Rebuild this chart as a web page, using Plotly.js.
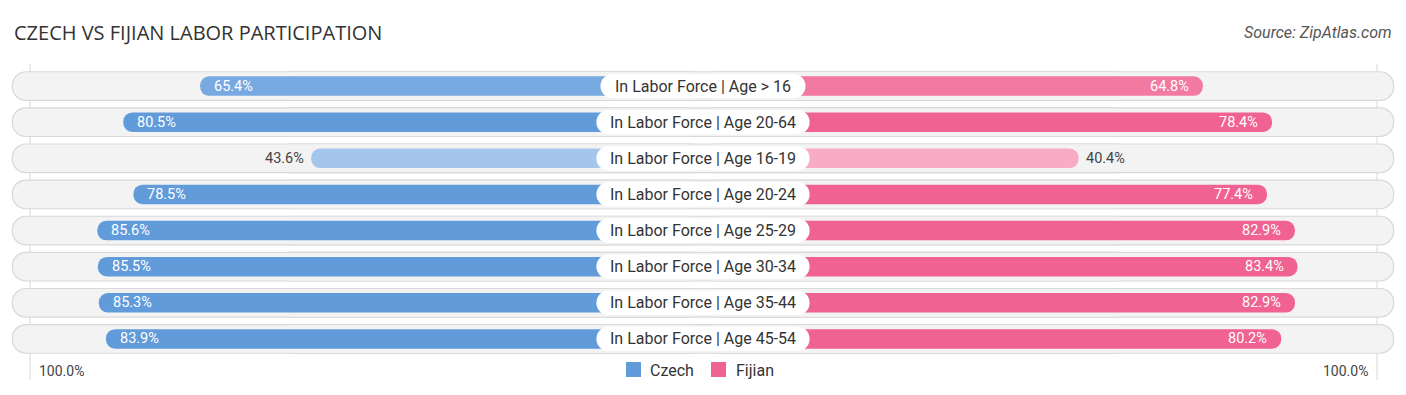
<!DOCTYPE html>
<html><head><meta charset="utf-8">
<script src="https://cdn.plot.ly/plotly-3.0.1.min.js"></script>
<style>html,body{margin:0;padding:0;background:#fff}#chart{width:1406px;height:395px}</style>
</head><body><div id="chart"></div>
<script>
const categories = [
  'In Labor Force | Age > 16',
  'In Labor Force | Age 20-64',
  'In Labor Force | Age 16-19',
  'In Labor Force | Age 20-24',
  'In Labor Force | Age 25-29',
  'In Labor Force | Age 30-34',
  'In Labor Force | Age 35-44',
  'In Labor Force | Age 45-54'
];
const czech  = [65.4, 80.5, 43.6, 78.5, 85.6, 85.5, 85.3, 83.9];
const fijian = [64.8, 78.4, 40.4, 77.4, 82.9, 83.4, 82.9, 80.2];
const seriesNames = ['Czech', 'Fijian'];
const axisLabel = '100.0%';
const titleText = 'CZECH VS FIJIAN LABOR PARTICIPATION';
const sourceText = 'Source: ZipAtlas.com';

// ---- layout constants (styles / positions) ----
const W = 1406, H = 395, MT = 68, MB = 38;
const ROW_PX = (H - MT - MB) / categories.length;
const PX = 5.09;                 // px per percentage unit
const OFFSET = 33.4;             // gap (units) between centre and zero of each side
const HALF = (W / 2) / PX;
const TRACK_HALF = 690 / PX;
const FONT = 'Roboto, Arial, sans-serif';
const czechFull = [98, 155, 218], czechLight = [172, 203, 237];
const fijFull = [240, 98, 146], fijLight = [248, 172, 198];

function mix(a, b, t) { return 'rgb(' + a.map((v, i) => Math.round(v + (b[i] - v) * t)).join(',') + ')'; }
function shade(v, full, light) { const t = Math.max(0, Math.min(1, (v - 40) / 36)); return mix(light, full, t); }
function px(x) { return x / W; }
function py(y) { return (H - MB - y) / (H - MT - MB); }

const n = categories.length;
const idx = categories.map((_, i) => i);
const pillHalf = categories.map(c => (c.length * 8.2 / 2) / PX);

const base = { type: 'bar', orientation: 'h', y: idx, hoverinfo: 'skip', showlegend: false, base: 0 };
function pill(halfs, width, color, radius) {
  // two rounded halves plus a square middle piece that hides the seam at the centre
  const mid = halfs.map(h => h * 0.6);
  return [
    Object.assign({}, base, { x: halfs.map(h => -h), width: width, marker: { color: color, line: { width: 0 }, cornerradius: radius } }),
    Object.assign({}, base, { x: halfs, width: width, marker: { color: color, line: { width: 0 }, cornerradius: radius } }),
    Object.assign({}, base, { x: mid.map(m => 2 * m), base: mid.map(m => -m), width: width, marker: { color: color, line: { width: 0 } } })
  ];
}
const TW = 0.76, BORDER = 1.2;
const traces = [].concat(
  pill(idx.map(() => TRACK_HALF + BORDER / PX), TW + 2 * BORDER / ROW_PX, '#d9d9d9', 15),
  pill(idx.map(() => TRACK_HALF), TW, '#f3f3f3', 14),
  [
    Object.assign({}, base, { x: czech.map(v => -(OFFSET + v)), width: 0.54,
      marker: { color: czech.map(v => shade(v, czechFull, czechLight)), line: { width: 0 }, cornerradius: 10 } }),
    Object.assign({}, base, { x: fijian.map(v => OFFSET + v), width: 0.54,
      marker: { color: fijian.map(v => shade(v, fijFull, fijLight)), line: { width: 0 }, cornerradius: 10 } })
  ],
  pill(pillHalf, 0.67, '#ffffff', 12)
);

const INSIDE_MIN = 55;
const annotations = [];
categories.forEach((c, i) => {
  annotations.push({ x: 0, y: i, text: c, showarrow: false, xanchor: 'center', yanchor: 'middle',
    font: { family: FONT, size: 16, color: '#333' } });
  const cv = czech[i], inC = cv >= INSIDE_MIN;
  annotations.push({ x: -(OFFSET + cv), y: i, text: cv.toFixed(1) + '%', showarrow: false,
    xanchor: inC ? 'left' : 'right', xshift: inC ? 12 : -5, yanchor: 'middle',
    font: { family: FONT, size: 14.5, color: inC ? '#ffffff' : '#444' } });
  const fv = fijian[i], inF = fv >= INSIDE_MIN;
  annotations.push({ x: OFFSET + fv, y: i, text: fv.toFixed(1) + '%', showarrow: false,
    xanchor: inF ? 'right' : 'left', xshift: inF ? -12 : 5, yanchor: 'middle',
    font: { family: FONT, size: 14.5, color: inF ? '#ffffff' : '#444' } });
});
annotations.push({ xref: 'paper', yref: 'paper', x: px(12), y: py(33), xanchor: 'left', yanchor: 'middle',
  text: titleText, showarrow: false, font: { family: '"Open Sans", sans-serif', size: 20, color: '#333' } });
annotations.push({ xref: 'paper', yref: 'paper', x: px(1394), y: py(33), xanchor: 'right', yanchor: 'middle',
  text: '<i>' + sourceText + '</i>', showarrow: false, font: { family: FONT, size: 16, color: '#555' } });
annotations.push({ xref: 'paper', yref: 'paper', x: px(37), y: py(371), xanchor: 'left', yanchor: 'middle',
  text: axisLabel, showarrow: false, font: { family: FONT, size: 14, color: '#444' } });
annotations.push({ xref: 'paper', yref: 'paper', x: px(1370), y: py(371), xanchor: 'right', yanchor: 'middle',
  text: axisLabel, showarrow: false, font: { family: FONT, size: 14, color: '#444' } });
annotations.push({ xref: 'paper', yref: 'paper', x: px(648), y: py(370), xanchor: 'left', yanchor: 'middle',
  text: seriesNames[0], showarrow: false, font: { family: FONT, size: 16, color: '#333' } });
annotations.push({ xref: 'paper', yref: 'paper', x: px(734), y: py(370), xanchor: 'left', yanchor: 'middle',
  text: seriesNames[1], showarrow: false, font: { family: FONT, size: 16, color: '#333' } });

const shapes = [
  { type: 'line', xref: 'paper', yref: 'paper', x0: px(30), x1: px(30), y0: py(64), y1: py(380), layer: 'below',
    line: { color: '#d8d8d8', width: 1 } },
  { type: 'line', xref: 'paper', yref: 'paper', x0: px(1377), x1: px(1377), y0: py(64), y1: py(380), layer: 'below',
    line: { color: '#d8d8d8', width: 1 } },
  { type: 'rect', xref: 'paper', yref: 'paper', x0: px(626), x1: px(641), y0: py(362), y1: py(377),
    fillcolor: 'rgb(98,155,218)', line: { width: 0 } },
  { type: 'rect', xref: 'paper', yref: 'paper', x0: px(711), x1: px(726), y0: py(362), y1: py(377),
    fillcolor: 'rgb(240,98,146)', line: { width: 0 } }
];

const layout = {
  width: W, height: H, margin: { l: 0, r: 0, t: MT, b: MB, pad: 0 },
  paper_bgcolor: '#ffffff', plot_bgcolor: 'rgba(0,0,0,0)',
  barmode: 'overlay', showlegend: false,
  xaxis: { range: [-HALF, HALF], visible: false, fixedrange: true },
  yaxis: { range: [n - 0.5, -0.5], visible: false, fixedrange: true },
  annotations: annotations, shapes: shapes
};
Plotly.newPlot('chart', traces, layout, { staticPlot: true, displayModeBar: false });
</script></body></html>
